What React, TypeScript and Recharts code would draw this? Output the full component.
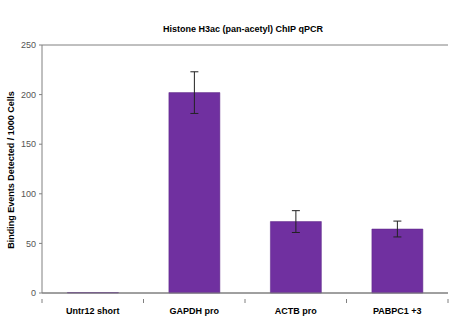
import { BarChart, Bar, XAxis, YAxis, CartesianGrid, ErrorBar } from 'recharts';

const categories = ['Untr12 short', 'GAPDH pro', 'ACTB pro', 'PABPC1 +3'];
const values = [0.5, 202, 72, 64.5];
const errors = [0, 21, 11, 8];
const yTicks = [0, 50, 100, 150, 200, 250];

const data = categories.map((name, i) => ({ name, value: values[i], err: errors[i] }));

const FONT = '"Liberation Sans", Arial, sans-serif';
const W = 465;
const H = 317;
const LEFT = 42;
const RIGHT = 17;
const band = (W - LEFT - RIGHT) / categories.length;

// Excel-style category tick: label centred, tick marks on the category boundaries
function CategoryTick(props: any) {
  const { x, y, payload, index } = props;
  return (
    <g>
      {index === 0 && (
        <line x1={x - band / 2} x2={x - band / 2} y1={y - 2} y2={y + 2} stroke="#808080" />
      )}
      <line x1={x + band / 2} x2={x + band / 2} y1={y - 2} y2={y + 2} stroke="#808080" />
      <text
        x={x}
        y={y + 13}
        textAnchor="middle"
        fontFamily={FONT}
        fontWeight="bold"
        fontSize={9}
        fill="#000"
      >
        {payload.value}
      </text>
    </g>
  );
}

export default function App() {
  return (
    <div style={{ position: 'absolute', left: 0, top: 0, width: W, height: H, background: '#fff' }}>
      <BarChart
        width={W}
        height={H}
        data={data}
        margin={{ top: 45, right: RIGHT, left: 0, bottom: 0 }}
        barCategoryGap="25%"
      >
        <text
          x={243}
          y={32}
          textAnchor="middle"
          fontFamily={FONT}
          fontWeight="bold"
          fontSize={9}
          fill="#000"
        >
          Histone H3ac (pan-acetyl) ChIP qPCR
        </text>
        <text
          x={14}
          y={170}
          transform="rotate(-90 14 170)"
          textAnchor="middle"
          fontFamily={FONT}
          fontWeight="bold"
          fontSize={9}
          fill="#000"
        >
          Binding Events Detected / 1000 Cells
        </text>
        <CartesianGrid vertical={false} stroke="#808080" />
        <XAxis
          dataKey="name"
          height={24}
          axisLine={{ stroke: '#808080' }}
          tickLine={false}
          tick={<CategoryTick />}
          interval={0}
        />
        <YAxis
          yAxisId="left"
          width={LEFT}
          domain={[0, 250]}
          ticks={yTicks}
          interval={0}
          axisLine={{ stroke: '#808080' }}
          tickLine={{ stroke: '#808080' }}
          tickSize={3}
          tick={{ fontFamily: FONT, fontSize: 9, fill: '#555', dx: -1 }}
        />
        <YAxis
          yAxisId="right"
          orientation="right"
          width={0}
          domain={[0, 250]}
          tick={false}
          tickLine={false}
          axisLine={{ stroke: '#808080' }}
        />
        <Bar
          yAxisId="left"
          dataKey="value"
          fill="#7030A0"
          stroke="#5a2585"
          strokeWidth={0.5}
          isAnimationActive={false}
        >
          <ErrorBar dataKey="err" width={4} stroke="#222" strokeWidth={1} />
        </Bar>
      </BarChart>
    </div>
  );
}
